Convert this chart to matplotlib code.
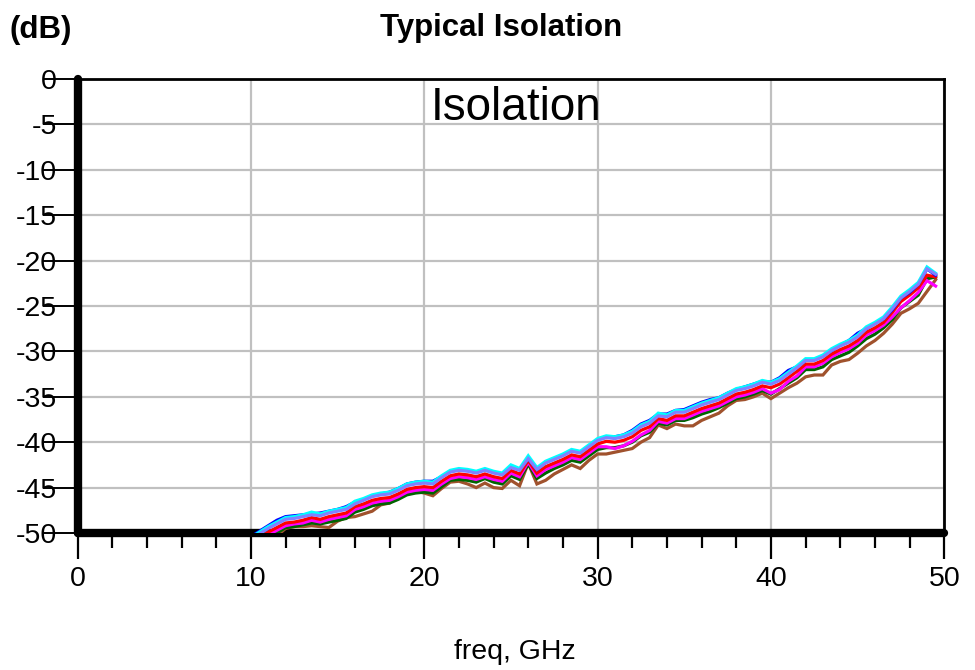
import numpy as np
import matplotlib
matplotlib.use("Agg")
import matplotlib.pyplot as plt

plt.rcParams['font.family'] = ['Liberation Sans', 'DejaVu Sans']

# frequency grid (GHz)
freq = np.arange(10.0, 50.0, 0.5)

iso_cyan = [
    -50.5, -49.9, -49.3, -48.8, -48.3, -48.2, -48.0, -47.7, -47.9, -47.6,
    -47.4, -47.2, -46.5, -46.2, -45.8, -45.6, -45.5, -45.1, -44.6, -44.4,
    -44.3, -44.4, -43.7, -43.1, -42.9, -43.0, -43.2, -42.9, -43.2, -43.4,
    -42.5, -42.9, -41.5, -42.8, -42.1, -41.7, -41.3, -40.8, -41.0, -40.3,
    -39.6, -39.3, -39.4, -39.2, -38.8, -38.1, -37.7, -36.8, -37.0, -36.5,
    -36.5, -36.1, -35.7, -35.4, -35.1, -34.6, -34.1, -33.9, -33.6, -33.2,
    -33.4, -33.0, -32.3, -31.6, -30.8, -30.8, -30.4, -29.7, -29.2, -28.8,
    -28.2, -27.3, -26.8, -26.2, -25.1, -23.9, -23.2, -22.4, -20.7, -21.4]

iso_blue = [
    -50.4, -49.8, -49.2, -48.6, -48.2, -48.1, -48.0, -47.9, -47.8, -47.6,
    -47.4, -47.1, -46.6, -46.3, -45.9, -45.7, -45.5, -45.1, -44.6, -44.4,
    -44.3, -44.3, -43.8, -43.2, -43.0, -43.1, -43.3, -43.0, -43.3, -43.5,
    -42.7, -43.0, -41.8, -43.0, -42.2, -41.8, -41.4, -40.9, -41.1, -40.4,
    -39.7, -39.4, -39.4, -39.2, -38.7, -38.0, -37.6, -36.9, -36.9, -36.5,
    -36.4, -36.0, -35.6, -35.3, -35.1, -34.6, -34.2, -33.9, -33.6, -33.3,
    -33.4, -32.9, -32.1, -31.7, -31.0, -30.9, -30.5, -29.9, -29.3, -28.8,
    -28.0, -27.5, -26.9, -26.4, -25.4, -24.1, -23.5, -22.6, -20.9, -21.6]

iso_purple = [
    -50.7, -50.1, -49.5, -49.0, -48.5, -48.4, -48.2, -48.0, -48.1, -47.8,
    -47.6, -47.4, -46.8, -46.4, -46.0, -45.8, -45.7, -45.3, -44.8, -44.6,
    -44.5, -44.6, -43.9, -43.3, -43.1, -43.2, -43.4, -43.1, -43.4, -43.6,
    -42.8, -43.1, -41.8, -43.0, -42.3, -41.9, -41.5, -41.0, -41.2, -40.5,
    -39.8, -39.5, -39.6, -39.4, -39.0, -38.3, -37.9, -37.1, -37.2, -36.7,
    -36.7, -36.3, -35.9, -35.6, -35.3, -34.8, -34.3, -34.1, -33.8, -33.4,
    -33.6, -33.2, -32.5, -31.8, -31.0, -31.0, -30.6, -29.9, -29.4, -29.0,
    -28.4, -27.5, -27.0, -26.4, -25.3, -24.1, -23.4, -22.6, -20.9, -21.5]

iso_red = [
    -51.1, -50.5, -49.9, -49.4, -48.9, -48.8, -48.6, -48.3, -48.5, -48.2,
    -48.0, -47.8, -47.1, -46.8, -46.4, -46.2, -46.1, -45.7, -45.2, -45.0,
    -44.9, -45.0, -44.3, -43.7, -43.5, -43.6, -43.8, -43.5, -43.8, -44.0,
    -43.1, -43.5, -42.0, -43.4, -42.7, -42.3, -41.9, -41.4, -41.6, -40.9,
    -40.2, -39.9, -40.0, -39.8, -39.4, -38.7, -38.3, -37.4, -37.6, -37.1,
    -37.1, -36.7, -36.3, -36.0, -35.7, -35.2, -34.7, -34.5, -34.2, -33.8,
    -34.0, -33.6, -32.9, -32.2, -31.4, -31.4, -31.0, -30.3, -29.8, -29.4,
    -28.8, -27.9, -27.4, -26.8, -25.7, -24.5, -23.8, -23.0, -21.6, -21.8]

iso_magenta = [
    -51.4, -50.8, -50.2, -49.7, -49.2, -49.0, -48.9, -48.6, -48.8, -48.5,
    -48.3, -48.1, -47.4, -47.1, -46.7, -46.5, -46.4, -46.0, -45.5, -45.3,
    -45.2, -45.3, -44.6, -44.0, -43.8, -43.9, -44.1, -43.8, -44.1, -44.3,
    -43.4, -43.8, -42.2, -43.7, -43.0, -42.6, -42.2, -41.7, -41.9, -41.2,
    -40.5, -40.5, -40.7, -40.4, -39.9, -39.2, -38.7, -37.7, -37.9, -37.4,
    -37.4, -37.0, -36.6, -36.3, -36.0, -35.5, -35.0, -34.8, -34.5, -34.1,
    -34.6, -34.2, -33.3, -32.7, -31.7, -31.7, -31.3, -30.6, -30.1, -29.7,
    -29.1, -28.2, -27.7, -27.1, -26.2, -25.2, -24.4, -23.5, -22.2, -22.8]

iso_green = [
    -51.7, -51.1, -50.5, -50.0, -49.4, -49.3, -49.1, -48.9, -49.0, -48.8,
    -48.6, -48.4, -47.7, -47.4, -47.0, -46.8, -46.7, -46.3, -45.8, -45.6,
    -45.5, -45.6, -44.9, -44.2, -44.1, -44.2, -44.4, -44.0, -44.4, -44.6,
    -43.7, -44.1, -42.4, -44.0, -43.4, -42.9, -42.5, -42.0, -42.2, -41.5,
    -40.8, -40.6, -40.6, -40.4, -40.0, -39.3, -38.9, -37.9, -38.1, -37.6,
    -37.6, -37.3, -36.9, -36.6, -36.2, -35.7, -35.2, -35.0, -34.7, -34.3,
    -34.7, -34.1, -33.5, -32.9, -32.0, -32.0, -31.7, -30.9, -30.5, -30.1,
    -29.4, -28.6, -28.1, -27.4, -26.5, -25.2, -24.5, -23.8, -22.0, -21.8]

iso_brown = [
    -52.0, -51.5, -51.0, -50.3, -49.5, -49.3, -49.3, -49.2, -49.3, -49.4,
    -48.7, -48.3, -48.2, -47.9, -47.6, -46.9, -46.7, -46.0, -45.6, -45.4,
    -45.6, -45.9, -45.1, -44.4, -44.3, -44.6, -45.0, -44.5, -45.0, -45.1,
    -44.2, -44.8, -42.3, -44.6, -44.2, -43.5, -43.0, -42.5, -42.9, -42.0,
    -41.3, -41.3, -41.1, -40.9, -40.7, -40.0, -39.5, -38.1, -38.5, -38.0,
    -38.2, -38.2, -37.6, -37.2, -36.8, -36.0, -35.4, -35.3, -35.0, -34.6,
    -35.2, -34.6, -34.0, -33.5, -32.8, -32.6, -32.6, -31.5, -31.1, -30.9,
    -30.2, -29.4, -28.8, -28.0, -27.0, -25.8, -25.3, -24.7, -23.4, -22.1]

series = [
    (iso_brown, '#a0522d'),
    (iso_green, '#006400'),
    (iso_magenta, '#ff00ff'),
    (iso_red, '#ff0000'),
    (iso_blue, '#0000ff'),
    (iso_cyan, '#00ffff'),
    (iso_purple, '#8080ff'),
]

x_major = [0, 10, 20, 30, 40, 50]
x_minor = [2, 4, 6, 8, 12, 14, 16, 18, 22, 24, 26, 28, 32, 34, 36, 38, 42, 44, 46, 48]
y_ticks = [0, -5, -10, -15, -20, -25, -30, -35, -40, -45, -50]

fig = plt.figure(figsize=(9.75, 6.7), dpi=100)
ax = fig.add_axes([0.0795, 0.2045, 0.889, 0.6775])

for vals, col in series:
    ax.plot(freq[:len(vals)], vals, color=col, lw=2.3, solid_joinstyle='miter', zorder=3)

ax.set_xlim(0, 50)
ax.set_ylim(-50, 0)

ax.set_xticks(x_major)
ax.set_xticks(x_minor, minor=True)
ax.set_yticks(y_ticks)
ax.set_yticklabels([str(v) for v in y_ticks])

ax.grid(True, which='major', color='#c0c0c0', lw=1.6, zorder=1)

ax.tick_params(axis='x', which='major', direction='out', length=19, width=1.6,
               pad=5, labelsize=20.5, color='black')
ax.tick_params(axis='x', which='minor', direction='out', length=11, width=1.6, color='black')
ax.tick_params(axis='y', which='major', direction='out', length=25, width=1.4,
               pad=-10, labelsize=20.5, color='black')

for s in ['left', 'bottom']:
    ax.spines[s].set_linewidth(6)
    ax.spines[s].set_capstyle('round')
for s in ['top', 'right']:
    ax.spines[s].set_linewidth(2)

ax.text(0.506, (533 - 120) / 454, 'Isolation', transform=ax.transAxes, ha='center',
        va='baseline', fontsize=33, zorder=5)

fig.text(0.514, 0.958, 'Typical Isolation', ha='center', va='center',
         fontsize=22.5, fontweight='bold')
fig.text(0.01, 0.955, '(dB)', ha='left', va='center', fontsize=22.5, fontweight='bold')
fig.text(0.528, 0.027, 'freq, GHz', ha='center', va='center', fontsize=20.5)

fig.savefig('out.png', dpi=100)
